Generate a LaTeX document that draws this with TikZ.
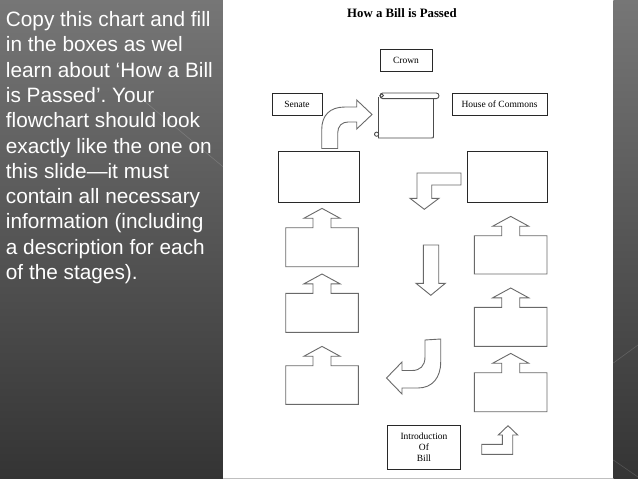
\documentclass[tikz,border=0pt]{standalone}
\usepackage{fontspec}
\setmainfont{Liberation Serif}
\newfontfamily\arialfont{Liberation Sans}
\frenchspacing
\definecolor{paneltop}{RGB}{118,118,118}
\definecolor{panelbot}{RGB}{52,52,52}
\definecolor{boxline}{RGB}{40,40,40}
\definecolor{arrline}{RGB}{105,105,105}
\newcommand{\upcallout}[3]{%
  \draw[arrowshape] (#1-36.3,#2) -- (#1-9,#2) -- (#1-9,#2-9.5) -- (#1-18,#2-9.5) -- (#1,#2-19.3)
    -- (#1+18,#2-9.5) -- (#1+9,#2-9.5) -- (#1+9,#2) -- (#1+36.3,#2) -- (#1+36.3,#3) -- (#1-36.3,#3) -- cycle;}
\begin{document}
\begin{tikzpicture}[x=1pt,y=-1pt,
  box/.style={draw=boxline, line width=0.9pt, inner sep=0pt, align=center,
    font=\fontsize{9.5}{11}\selectfont},
  arrowshape/.style={draw=arrline, line width=0.9pt, line join=miter},
  panelline/.style={draw=white, opacity=0.15, line width=0.6pt},
  slidetext/.style={text=white, anchor=base west, inner sep=0pt,
    font=\arialfont\fontsize{20.8}{23}\selectfont}]
\useasboundingbox (0,0) rectangle (638,479);
% background panels
\shade[top color=paneltop, bottom color=panelbot] (0,0) rectangle (223.3,479);
\shade[top color=paneltop, bottom color=panelbot] (613.3,0) rectangle (638,479);
\draw[panelline] (143,100) -- (223.3,167);
\draw[panelline] (613.3,363) -- (638,345);
\draw[panelline] (613.3,460) -- (638,477);
\fill[white] (223.3,0) rectangle (613.3,477.7);
\fill[black!25] (223.3,477.7) rectangle (613.3,479);
% slide text
\foreach \t [count=\i] in {Copy this chart and fill, in the boxes as wel, learn about ‘How a Bill, is Passed’. Your, flowchart should look, exactly like the one on, this slide—it must, contain all necessary, information (including, a description for each, of the stages).}
  \node[slidetext] (line\i) at (5.7,{26.7+(\i-1)*25.26}) {\t};
% title
\node[font=\bfseries\fontsize{12.8}{14}\selectfont, inner sep=0pt] (title) at (402,13) {How a Bill is Passed};
% labelled boxes
\node[box, minimum width=52pt, minimum height=22pt] (crown) at (406,60) {Crown};
\node[box, minimum width=50pt, minimum height=22pt] (senate) at (297,104) {Senate};
\node[box, minimum width=95pt, minimum height=22pt] (commons) at (499.5,104) {House of Commons};
\node[box, minimum width=72.6pt, minimum height=44pt] (intro) at (424,447.3) {Introduction\\Of\\Bill};
% empty boxes
\node[box, minimum width=81pt, minimum height=51pt] (leftbig) at (318.5,176.5) {};
\node[box, minimum width=80pt, minimum height=51pt] (rightbig) at (507,176.5) {};
% scroll
\begin{scope}[draw=black!70, line width=0.9pt]
\draw (378.5,97) -- (378.5,138) -- (431.3,138) .. controls (433.5,138) .. (433.5,135.8) -- (433.5,98.5);
\draw[rounded corners=2.7pt] (380,93) rectangle (439,98.6);
\draw (381.7,95.6) circle (1.8pt);
\draw (376.6,134.2) circle (2.1pt);
\end{scope}
% curved arrow Senate side -> scroll
\draw[arrowshape] (321.7,148.5) -- (321.7,130) .. controls (321.7,115) and (330,107) .. (345,107)
  -- (356.7,107) -- (356.7,100) -- (372,114.5) -- (356.7,129) -- (356.7,122) -- (348,122)
  .. controls (342,122) and (337.7,126) .. (337.7,133) -- (337.7,148.5) -- cycle;
% L arrow right -> down
\draw[arrowshape] (461,173) -- (417,173) -- (417,198.3) -- (410,198.3) -- (424.3,209.3)
  -- (439,198.3) -- (431.7,198.3) -- (431.7,185) -- (461,185) -- cycle;
% straight down arrow
\draw[arrowshape] (423.3,245) -- (438.7,245) -- (438.7,283.3) -- (445.3,283.3) -- (430.8,295.3)
  -- (416,283.3) -- (423.3,283.3) -- cycle;
% J arrow pointing left
\draw[arrowshape] (425,340) -- (440.7,339) -- (440.7,362) .. controls (440.7,378) and (432,388) .. (418,388)
  -- (402,388) -- (402,394) -- (386.5,378) -- (402,362) -- (402,370.5) -- (412,370.5)
  .. controls (420,370.5) and (425,366) .. (425,357) -- cycle;
% small L arrow bottom right
\draw[arrowshape] (481.7,444.3) -- (502.3,444.3) -- (502.3,435) -- (498.3,435) -- (508,425.7)
  -- (517.7,435) -- (512.7,435) -- (512.7,454.3) -- (481.7,454.3) -- cycle;
% callout boxes with up arrows
\upcallout{322}{227.7}{266.7}
\upcallout{322}{293.3}{332.3}
\upcallout{322}{365.7}{404.3}
\upcallout{510.7}{235.7}{274}
\upcallout{510.7}{307.3}{346.3}
\upcallout{510.7}{372.7}{411.7}
\end{tikzpicture}
\end{document}
